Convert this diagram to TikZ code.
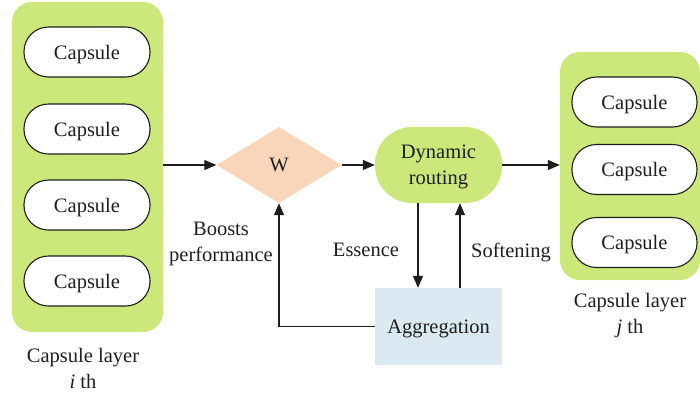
\documentclass[tikz,border=0pt]{standalone}
\usepackage{fontspec}
\setmainfont{Liberation Serif}
\usetikzlibrary{arrows.meta,shapes.geometric}
\definecolor{lgreen}{RGB}{204,231,122}
\definecolor{peach}{RGB}{249,214,186}
\definecolor{lblue}{RGB}{218,234,240}
\definecolor{ink}{RGB}{30,30,30}
\begin{document}
\begin{tikzpicture}[x=1pt,y=-1pt,
  every node/.style={font=\fontsize{20.5}{25}\selectfont, text=ink},
  layerbox/.style={fill=lgreen, rounded corners=20pt, inner sep=0pt},
  capsnode/.style={draw=ink, line width=1.1pt, fill=white, rounded corners=24.5pt, minimum width=126pt, minimum height=50pt, inner sep=0pt, text depth=0pt},
  arr/.style={draw=ink, line width=1.2pt, -{Triangle[length=12pt,width=10pt]}},
  lbl/.style={align=center, inner sep=0pt}
]
\useasboundingbox (0,0) rectangle (700,394);
% left layer
\node[layerbox, minimum width=151pt, minimum height=330pt] (L) at (87.5,167) {};
\node[capsnode] (c1) at (87,52) {Capsule};
\node[capsnode] (c2) at (87,129) {Capsule};
\node[capsnode] (c3) at (87,205) {Capsule};
\node[capsnode] (c4) at (87,281) {Capsule};
\node[lbl] (Llab) at (83,368) {Capsule layer\\[1pt]\textit{i} th};
% right layer
\node[layerbox, minimum width=140pt, minimum height=228pt] (R) at (630,166) {};
\node[capsnode, minimum width=125pt] (d1) at (634.5,102) {Capsule};
\node[capsnode, minimum width=125pt] (d2) at (634.5,169.5) {Capsule};
\node[capsnode, minimum width=125pt] (d3) at (634.5,242.5) {Capsule};
\node[lbl] (Rlab) at (630,316) {Capsule layer\\[1pt]\textit{j} th};
% middle
\node[diamond, fill=peach, minimum width=125pt, minimum height=76pt, aspect=1.64, inner sep=0pt, text depth=0pt] (W) at (279,165) {W};
\node[fill=lgreen, rounded corners=37pt, minimum width=127pt, minimum height=76pt, inner sep=0pt, align=center, text depth=0pt] (DR) at (438.5,165) {Dynamic\\[1pt]routing};
\node[fill=lblue, minimum width=127pt, minimum height=77pt, inner sep=0pt, text depth=0pt] (AG) at (438.5,326.5) {Aggregation};
% labels
\node[lbl] (boost) at (221,244) {Boosts\\[1pt]performance};
\node[lbl, text depth=0pt] (ess) at (366,250) {Essence};
\node[lbl, text depth=0pt] (soft) at (511,250) {Softening};
% connectors
\draw[arr] (L.east |- W.west) -- (W.west);
\draw[arr] (W.east) -- (DR.west);
\draw[arr] (DR.east) -- (R.west |- DR.east);
\draw[arr] ([xshift=-20.5pt]DR.south) -- ([xshift=-20.5pt]AG.north);
\draw[arr] ([xshift=21.5pt]AG.north) -- ([xshift=21.5pt]DR.south);
\draw[arr] (AG.west) -| (W.south);
\end{tikzpicture}
\end{document}
